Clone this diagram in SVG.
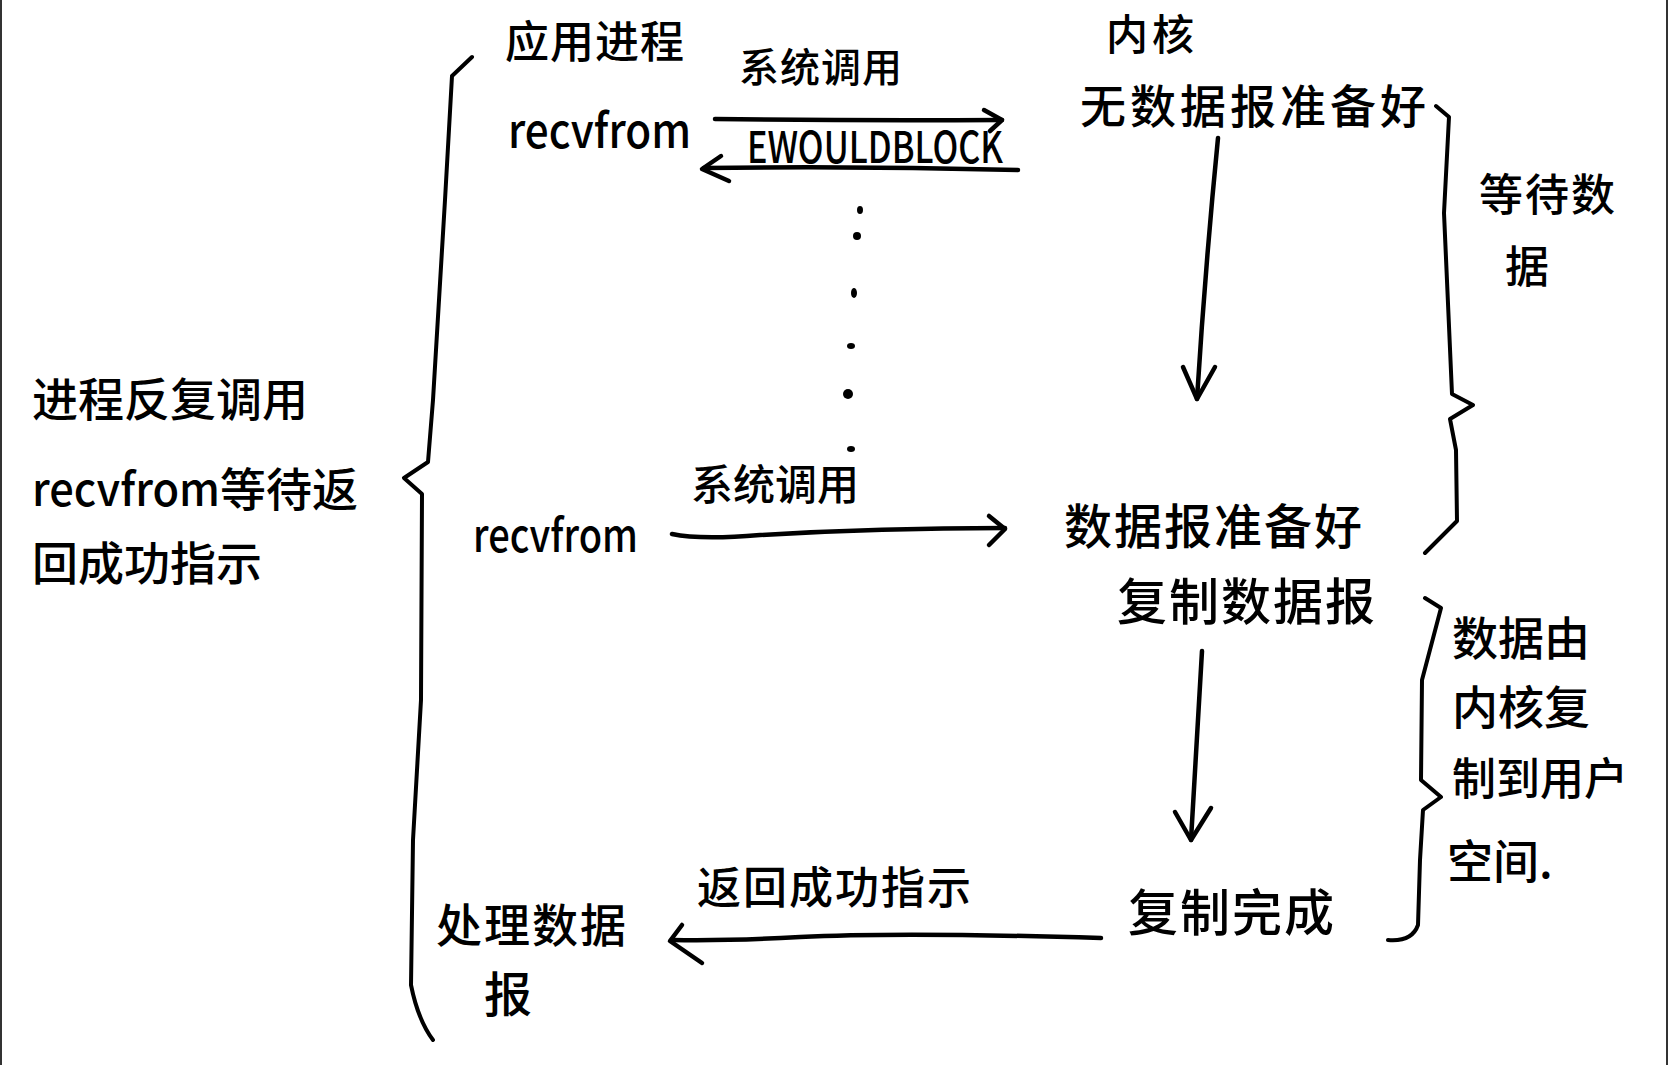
<svg xmlns="http://www.w3.org/2000/svg" width="1668" height="1065" viewBox="0 0 1668 1065">
<style>
.t{font-family:"Noto Sans CJK SC","Noto Sans",sans-serif;font-weight:500;fill:#000}
.ln{fill:none;stroke:#000;stroke-width:4.5;stroke-linecap:round;stroke-linejoin:round}
.br{fill:none;stroke:#000;stroke-width:4;stroke-linecap:round;stroke-linejoin:round}
</style>
<rect x="0" y="0" width="1668" height="1065" fill="#fff"/>
<line x1="1" y1="0" x2="1" y2="1065" stroke="#333" stroke-width="2"/>
<line x1="1667" y1="0" x2="1667" y2="1065" stroke="#333" stroke-width="2"/>

<g id="app-process"><text class="t" x="505" y="58" font-size="44" letter-spacing="1">应用进程</text></g>
<g id="syscall-1"><text class="t" x="739" y="82" font-size="40" letter-spacing="1">系统调用</text></g>
<g id="recvfrom-1"><text class="t" x="508" y="148" font-size="48" textLength="183" lengthAdjust="spacingAndGlyphs">recvfrom</text></g>
<g id="ewouldblock"><text class="t" x="747" y="163" font-size="44" textLength="256" lengthAdjust="spacingAndGlyphs">EWOULDBLOCK</text></g>
<g id="kernel"><text class="t" x="1106" y="50" font-size="42" letter-spacing="4">内核</text></g>
<g id="no-datagram"><text class="t" x="1080" y="123" font-size="46" letter-spacing="4">无数据报准备好</text></g>
<g id="wait-data">
<text class="t" x="1479" y="211" font-size="44" letter-spacing="2">等待数</text>
<text class="t" x="1505" y="283" font-size="44">据</text>
</g>
<g id="repeat-note">
<text class="t" x="32" y="416" font-size="46">进程反复调用</text>
<text class="t" x="32" y="506" font-size="46"><tspan textLength="188" lengthAdjust="spacingAndGlyphs">recvfrom</tspan><tspan>等待返</tspan></text>
<text class="t" x="32" y="580" font-size="46">回成功指示</text>
</g>
<g id="recvfrom-2"><text class="t" x="473" y="552" font-size="46" textLength="165" lengthAdjust="spacingAndGlyphs">recvfrom</text></g>
<g id="syscall-2"><text class="t" x="691" y="500" font-size="42">系统调用</text></g>
<g id="datagram-ready"><text class="t" x="1064" y="544" font-size="48" letter-spacing="2">数据报准备好</text></g>
<g id="copy-datagram"><text class="t" x="1117" y="620" font-size="50" letter-spacing="2">复制数据报</text></g>
<g id="copy-note">
<text class="t" x="1452" y="655" font-size="46">数据由</text>
<text class="t" x="1452" y="724" font-size="46">内核复</text>
<text class="t" x="1452" y="795" font-size="44">制到用户</text>
<text class="t" x="1447" y="878" font-size="46">空间.</text>
</g>
<g id="copy-done"><text class="t" x="1128" y="931" font-size="50" letter-spacing="2">复制完成</text></g>
<g id="return-ok"><text class="t" x="697" y="904" font-size="44" letter-spacing="2">返回成功指示</text></g>
<g id="process-datagram">
<text class="t" x="436" y="942" font-size="46" letter-spacing="2">处理数据</text>
<text class="t" x="484" y="1012" font-size="48">报</text>
</g>

<g id="connectors">
<!-- recvfrom -> kernel (first call) -->
<path class="ln" d="M715,119 Q860,121 1002,120"/>
<path class="ln" d="M984,110 L1002,120 L990,131"/>
<!-- EWOULDBLOCK return -->
<path class="ln" d="M1018,170 Q860,166 704,168"/>
<path class="ln" d="M721,156 L702,169 L729,181"/>
<!-- waiting dots -->
<g fill="#000">
<ellipse cx="860" cy="210" rx="3" ry="4"/>
<ellipse cx="857" cy="236" rx="4" ry="4"/>
<ellipse cx="854" cy="293" rx="3" ry="5"/>
<ellipse cx="851" cy="346" rx="4" ry="3"/>
<ellipse cx="848" cy="394" rx="5" ry="5"/>
<ellipse cx="851" cy="449" rx="4" ry="3"/>
</g>
<!-- kernel: no data -> data ready -->
<path class="ln" d="M1218,138 Q1205,270 1197,399"/>
<path class="ln" d="M1183,367 L1197,399 L1215,367"/>
<!-- second recvfrom -> kernel -->
<path class="ln" d="M672,534 Q700,540 760,535 Q880,528 1005,528"/>
<path class="ln" d="M989,516 L1005,529 L989,545"/>
<!-- copy datagram -> copy done -->
<path class="ln" d="M1202,651 Q1196,750 1191,840"/>
<path class="ln" d="M1175,812 L1191,840 L1211,808"/>
<!-- return success -->
<path class="ln" d="M1101,938 Q900,932 800,937 Q730,941 673,940"/>
<path class="ln" d="M682,925 L670,941 L702,963"/>
<!-- left brace -->
<path class="br" d="M472,57 L452,76 L445,200 L433,400 L428,462 L404,478 L422,494 L421,700 L413,840 L411,985 Q418,1020 433,1040"/>
<!-- right brace: waiting for data -->
<path class="br" d="M1436,106 L1449,117 L1444,213 L1452,394 L1473,405 L1450,419 L1456,450 L1457,521 L1425,553"/>
<!-- right brace: copy to user space -->
<path class="br" d="M1425,598 L1441,608 L1422,680 L1421,780 L1441,797 L1423,810 L1420,860 L1418,925 Q1412,942 1388,940"/>
</g>
</svg>
